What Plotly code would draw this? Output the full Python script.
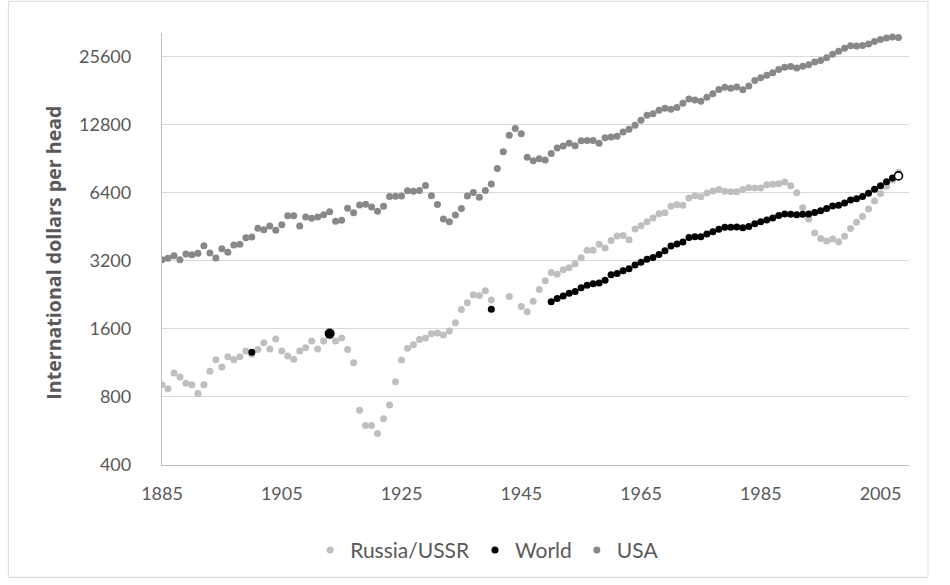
import math
import plotly.graph_objects as go

# ---------------- data ----------------
usa_years = list(range(1885, 2009))
usa_values = [
    3242, 3286, 3376, 3242, 3434, 3410, 3458, 3739, 3470, 3297,   # 1885-1894
    3626, 3494, 3764, 3790, 4056, 4084, 4461, 4401, 4570, 4371,   # 1895-1904
    4632, 5076, 5076, 4570, 5007, 4939, 5007, 5129, 5287, 4791,   # 1905-1914
    4840, 5471, 5235, 5659, 5697, 5545, 5309, 5583, 6164, 6195,   # 1915-1924
    6205, 6539, 6503, 6569, 6899, 6213, 5691, 4908, 4777, 5114,   # 1925-1934
    5467, 6204, 6430, 6126, 6561, 7010, 8206, 9741, 11518, 12333, # 1935-1944
    11709, 9197, 8886, 9065, 8944, 9561, 10116, 10316, 10613, 10359,  # 1945-1954
    10897, 10914, 10920, 10631, 11230, 11328, 11402, 11905, 12242, 12773,  # 1955-1964
    13419, 14134, 14330, 14863, 15179, 15030, 15304, 15944, 16689, 16491,  # 1965-1974
    16284, 16975, 17567, 18373, 18789, 18577, 18856, 18325, 19048, 20123,  # 1975-1984
    20717, 21236, 21788, 22499, 23059, 23201, 22849, 23298, 23616, 24322,  # 1985-1994
    24703, 25392, 26270, 27124, 27992, 28702, 28627, 28769, 29172, 29920,  # 1995-2004
    30585, 31064, 31357, 31178,                                            # 2005-2008
]

russia_years = list(range(1885, 1941)) + [1943] + list(range(1945, 2009))
russia_values = [
    907, 870, 1021, 980, 921, 907, 828, 907, 1039, 1170,          # 1885-1894
    1085, 1206, 1170, 1206, 1277, 1237, 1297, 1391, 1304, 1444,   # 1895-1904
    1277, 1214, 1174, 1277, 1322, 1414, 1304, 1414, 1488, 1414,   # 1905-1914
    1458, 1297, 1134, 698, 599, 599, 552, 641, 737, 935,          # 1915-1924
    1165, 1313, 1363, 1439, 1458, 1525, 1535, 1503, 1566, 1706,   # 1925-1934
    1953, 2092, 2269, 2250, 2363, 2148,                           # 1935-1940
    2230,                                                         # 1943
    2014, 1908, 2120, 2395, 2617,                                 # 1945-1949
    2848, 2791, 2928, 2987, 3112, 3310, 3565, 3565, 3790, 3650,   # 1950-1959
    3946, 4123, 4150, 3974, 4430, 4585, 4776, 4954, 5180, 5230,   # 1960-1969
    5582, 5680, 5640, 6075, 6225, 6150, 6395, 6530, 6625, 6510,   # 1970-1979
    6480, 6480, 6625, 6756, 6730, 6730, 6964, 7000, 7030, 7150,   # 1980-1989
    6890, 6420, 5509, 4904, 4251, 4027, 3920, 4000, 3896, 4111,   # 1990-1999
    4460, 4743, 5040, 5431, 5892, 6357, 6843, 7300, 7900,         # 2000-2008
]

world_years = [1900, 1913, 1940] + list(range(1950, 2009))
world_values = [
    1262, 1526, 1958,
    2113, 2184, 2241, 2305, 2345, 2433, 2498, 2539, 2555, 2626,   # 1950-1959
    2777, 2813, 2895, 2953, 3071, 3156, 3260, 3312, 3419, 3551,   # 1960-1969
    3729, 3800, 3881, 4065, 4094, 4091, 4209, 4314, 4425, 4514,   # 1970-1979
    4511, 4523, 4486, 4541, 4677, 4767, 4853, 4952, 5084, 5164,   # 1980-1989
    5154, 5128, 5152, 5166, 5248, 5341, 5460, 5602, 5640, 5771,   # 1990-1999
    5958, 6038, 6167, 6379, 6649, 6883, 7170, 7450, 7614,         # 2000-2008
]

y_ticks = [400, 800, 1600, 3200, 6400, 12800, 25600]
x_ticks = [1885, 1905, 1925, 1945, 1965, 1985, 2005]

# ---------------- figure ----------------
W, H = 950, 585
L, R, T, B = 161.7, 909.0, 32.7, 464.6
FONT = "Lato"
TXT = "#595959"

world_sizes = [10 if y == 1913 else (8 if y == world_years[-1] else 7) for y in world_years]
world_fill = ["#ffffff" if y == world_years[-1] else "#000000" for y in world_years]
world_line = [1.6 if y == world_years[-1] else 0 for y in world_years]

fig = go.Figure()
fig.add_trace(go.Scatter(
    x=russia_years, y=russia_values, mode="markers", name="Russia/USSR",
    marker=dict(color="#bfbfbf", size=7, opacity=1, line=dict(width=0)),
))
fig.add_trace(go.Scatter(
    x=world_years, y=world_values, mode="markers", name="World",
    marker=dict(color=world_fill, size=world_sizes, opacity=1,
                line=dict(color="#000000", width=world_line)),
))
fig.add_trace(go.Scatter(
    x=usa_years, y=usa_values, mode="markers", name="USA",
    marker=dict(color="#888888", size=7, opacity=1, line=dict(width=0)),
))

x0 = 1885
px_per_year = 5.99
x1 = x0 + (R - L) / px_per_year
y_top = 400 * 2 ** ((B - T) / 68.0)

fig.update_layout(
    width=W, height=H,
    margin=dict(l=L, r=W - R, t=T, b=H - B, autoexpand=False),
    paper_bgcolor="#ffffff", plot_bgcolor="#ffffff",
    font=dict(family=FONT, size=18, color=TXT),
    showlegend=True,
    legend=dict(orientation="h", x=(487 - L) / (R - L), xanchor="center",
                y=(B - 550) / (B - T), yanchor="middle",
                font=dict(family=FONT, size=21, color=TXT),
                itemwidth=30, tracegroupgap=0, bgcolor="rgba(0,0,0,0)"),
    xaxis=dict(range=[x0, x1], tickvals=x_ticks, ticktext=[str(v) for v in x_ticks],
               showgrid=False, zeroline=False, showline=True, linecolor="#bfbfbf",
               linewidth=1.3, ticks="", ticklabelstandoff=12,
               tickfont=dict(family=FONT, size=18, color=TXT)),
    yaxis=dict(type="log", range=[math.log10(400), math.log10(y_top)],
               tickvals=y_ticks, ticktext=[str(v) for v in y_ticks],
               showgrid=True, gridcolor="#d9d9d9", gridwidth=1,
               zeroline=False, showline=True, linecolor="#bfbfbf", linewidth=1.3,
               ticks="", ticklabelstandoff=26,
               tickfont=dict(family=FONT, size=18, color=TXT)),
    annotations=[dict(
        text="<b>International dollars per head</b>", textangle=-90,
        xref="paper", yref="paper", x=(53 - L) / (R - L), y=(B - 252) / (B - T),
        xanchor="center", yanchor="middle", showarrow=False,
        font=dict(family="Open Sans", size=19.6, color=TXT))],
    shapes=[dict(type="rect", xref="paper", yref="paper",
                 x0=(8 - L) / (R - L), x1=(928 - L) / (R - L),
                 y0=(B - 577) / (B - T), y1=(B - 1) / (B - T),
                 line=dict(color="#d9d9d9", width=1), fillcolor="rgba(0,0,0,0)",
                 layer="below")],
)

fig.write_html("out.html", config={"displayModeBar": False},
               post_script="document.body.style.margin='0';")
